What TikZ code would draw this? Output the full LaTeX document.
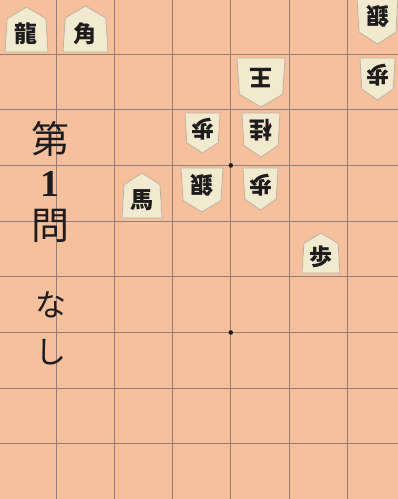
\documentclass[tikz,border=0pt]{standalone}
\usepackage{fontspec}
\newfontfamily\jp{Noto Sans CJK JP}
\newfontfamily\jpserif{Liberation Serif}
\definecolor{board}{RGB}{246,192,156}
\definecolor{gridc}{RGB}{150,125,118}
\definecolor{komafill}{RGB}{241,234,206}
\definecolor{komaline}{RGB}{190,178,165}
\definecolor{ink}{RGB}{30,28,28}
\tikzset{
  komashape/.style={fill=komafill, draw=komaline, line width=0.8pt, line join=round},
  komatext/.style={text=ink, inner sep=0pt, font=\jp\bfseries\fontsize{23}{23}\selectfont},
  gridline/.style={draw=gridc, line width=1pt},
  titletext/.style={text=ink, inner sep=0pt, align=center},
}
% sente piece: name, cx, cy, w, h, char
\newcommand\sentekoma[6]{%
  \begin{scope}[shift={(#2,#3)}]
    \path[komashape] (-0.5*#4,0.5*#5) -- (0.5*#4,0.5*#5) -- (0.45*#4,-0.24*#5) -- (0,-0.5*#5) -- (-0.45*#4,-0.24*#5) -- cycle;
    \node[komatext] (#1) at (0,0.1*#5) {#6};
  \end{scope}}
\newcommand\gotekoma[6]{%
  \begin{scope}[shift={(#2,#3)}]
    \path[komashape] (-0.5*#4,-0.5*#5) -- (0.5*#4,-0.5*#5) -- (0.45*#4,0.24*#5) -- (0,0.5*#5) -- (-0.45*#4,0.24*#5) -- cycle;
    \node[komatext, rotate=180] (#1) at (0,-0.1*#5) {#6};
  \end{scope}}
\begin{document}
\begin{tikzpicture}[x=1pt,y=-1pt]
  \fill[board] (0,0) rectangle (398,499);
  \useasboundingbox (0,0) rectangle (398,499);
  % grid
  \foreach \i in {0,...,7} {
    \draw[gridline] (-2+58.2*\i,-5) -- (-2+58.2*\i,505);
  }
  \foreach \j in {0,...,9} {
    \draw[gridline] (-5,-1.7+55.7*\j) -- (405,-1.7+55.7*\j);
  }
  % star points
  \fill[ink] (230.8,165.4) circle (2.3);
  \fill[ink] (230.8,332.5) circle (2.3);
  % pieces
  \sentekoma{ryu}{26.5}{29.5}{43}{45}{龍}
  \sentekoma{kaku}{85.5}{29}{45}{46}{角}
  \sentekoma{uma}{142}{195.5}{40}{45}{馬}
  \sentekoma{fuS}{321}{253}{38}{40}{歩}
  \gotekoma{ginA}{377.5}{21}{41}{46}{銀}
  \gotekoma{ou}{261}{82.5}{48}{49}{王}
  \gotekoma{fuA}{377.5}{79}{35}{42}{歩}
  \gotekoma{fuB}{202.5}{133}{35}{40}{歩}
  \gotekoma{kei}{261}{135}{38}{44}{桂}
  \gotekoma{ginB}{202}{190}{42}{44}{銀}
  \gotekoma{fuC}{260.5}{189}{35}{42}{歩}
  % titles
  \node[titletext, font=\jp\fontsize{38}{43}\selectfont] (title) at (50,182) {第\\{\jpserif\bfseries 1}\\問};
  \node[titletext, font=\jp\fontsize{31}{47}\selectfont] (nashi) at (51,328) {な\\し};
\end{tikzpicture}
\end{document}
